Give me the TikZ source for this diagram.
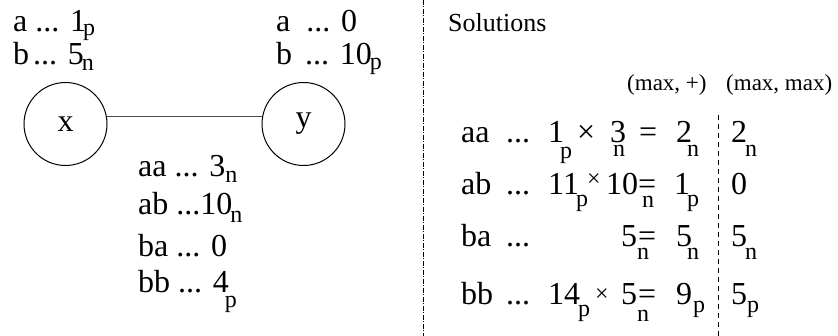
\documentclass[tikz,border=0pt]{standalone}
\usepackage{fontspec}
\setmainfont{Liberation Serif}
\newcommand\subsz{\fontsize{24}{24}\selectfont}
\newcommand\lo[2]{\raisebox{-#2}{\subsz #1}}

\begin{document}
\begin{tikzpicture}[x=1pt, y=-1pt,
    txt/.style={anchor=base west, inner sep=0pt, font=\fontsize{32}{36}\selectfont},
    hdr/.style={anchor=base west, inner sep=0pt, font=\fontsize{23}{26}\selectfont},
    vert/.style={draw, circle, line width=1pt, minimum size=83pt, inner sep=0pt,
                 font=\fontsize{32}{36}\selectfont}
  ]
  \useasboundingbox (0,0) rectangle (838,336);

  % the graph
  \node[vert] (vx) at (65.5,124) {x};
  \node[vert] (vy) at (303.5,124) {y};
  \draw[line width=1pt, black!70] (vx.10) -- (vy.170);

  \node[txt] (xa) at (13,32) {a ... 1\kern-3pt\lo{p}{4pt}};
  \node[txt] (xb) at (13,65) {b\hspace{4pt}... 5\kern-2pt\lo{n}{6pt}};
  \node[txt] (ya) at (276,32) {a\ \ ... 0};
  \node[txt] (yb) at (276,65) {b\hspace{13pt}... 10\kern-2pt\lo{p}{5pt}};

  \node[txt] (eaa) at (138,177) {aa ... 3\lo{n}{6pt}};
  \node[txt] (eab) at (138,215) {ab ...10\kern-2pt\lo{n}{8pt}};
  \node[txt] (eba) at (138,257) {ba ... 0};
  \node[txt] (ebb) at (138,293) {bb ... 4\kern-4pt\lo{p}{15pt}};

  % separators
  \coordinate (sepT) at (423,0);
  \coordinate (sepB) at (423,336);
  \draw[line width=1pt, dash pattern=on 5pt off 1.5pt on 1pt off 1.5pt] (sepT) -- (sepB);
  \coordinate (colT) at (718,115);
  \coordinate (colB) at (718,336);
  \draw[line width=1pt, dash pattern=on 5pt off 4pt] (colT) -- (colB);

  % solutions
  \node[txt, font=\fontsize{26}{30}\selectfont] (sol) at (448,32) {Solutions};
  \node[hdr] (hplus) at (627,91) {(max, +)};
  \node[hdr] (hmax) at (726,91) {(max, max)};

  \foreach \r/\yy in {aa/143, ab/195, ba/247, bb/305} {
    \node[txt] (\r) at (461,\yy) {\r};
    \node[txt] (\r-d) at (506,\yy) {...};
  }

  \node[txt] (aa-op1) at (548,143) {1\kern-4pt\lo{p}{16pt}};
  \node[txt] (aa-x)   at (577,143) {×};
  \node[txt] (aa-op2) at (610,143) {\rlap{\hspace{3pt}\lo{n}{14pt}}3};
  \node[txt] (aa-eq)  at (639,143) {=};
  \node[txt] (aa-res) at (676,143) {2\kern-5pt\lo{n}{14pt}};
  \node[txt] (aa-mm)  at (731,143) {2\kern-2pt\lo{n}{14pt}};

  \node[txt] (ab-op1) at (548,195) {11\kern-3pt\lo{p}{12pt}};
  \node[txt] (ab-x)   at (587,195) {\raisebox{8pt}{\subsz ×}};
  \node[txt] (ab-op2) at (606,195) {10};
  \node[txt] (ab-eq)  at (638,195) {\rlap{\hspace{4pt}\lo{n}{13pt}}=};
  \node[txt] (ab-res) at (674,195) {1\kern-3pt\lo{p}{12pt}};
  \node[txt] (ab-mm)  at (731,195) {0};

  \node[txt] (ba-op2) at (621,247) {5};
  \node[txt] (ba-eq)  at (638,247) {\rlap{\hspace{-1pt}\lo{n}{13pt}}=};
  \node[txt] (ba-res) at (676,247) {5\kern-5pt\lo{n}{13pt}};
  \node[txt] (ba-mm)  at (731,247) {5\kern-2pt\lo{n}{13pt}};

  \node[txt] (bb-op1) at (548,305) {14\kern-2pt\lo{p}{12pt}};
  \node[txt] (bb-x)   at (595,305) {\raisebox{3pt}{\subsz ×}};
  \node[txt] (bb-op2) at (621,305) {5};
  \node[txt] (bb-eq)  at (638,305) {\rlap{\hspace{-1pt}\lo{n}{17pt}}=};
  \node[txt] (bb-res) at (676,305) {9\kern1pt\lo{p}{8pt}};
  \node[txt] (bb-mm)  at (731,305) {5\lo{p}{8pt}};
\end{tikzpicture}
\end{document}
